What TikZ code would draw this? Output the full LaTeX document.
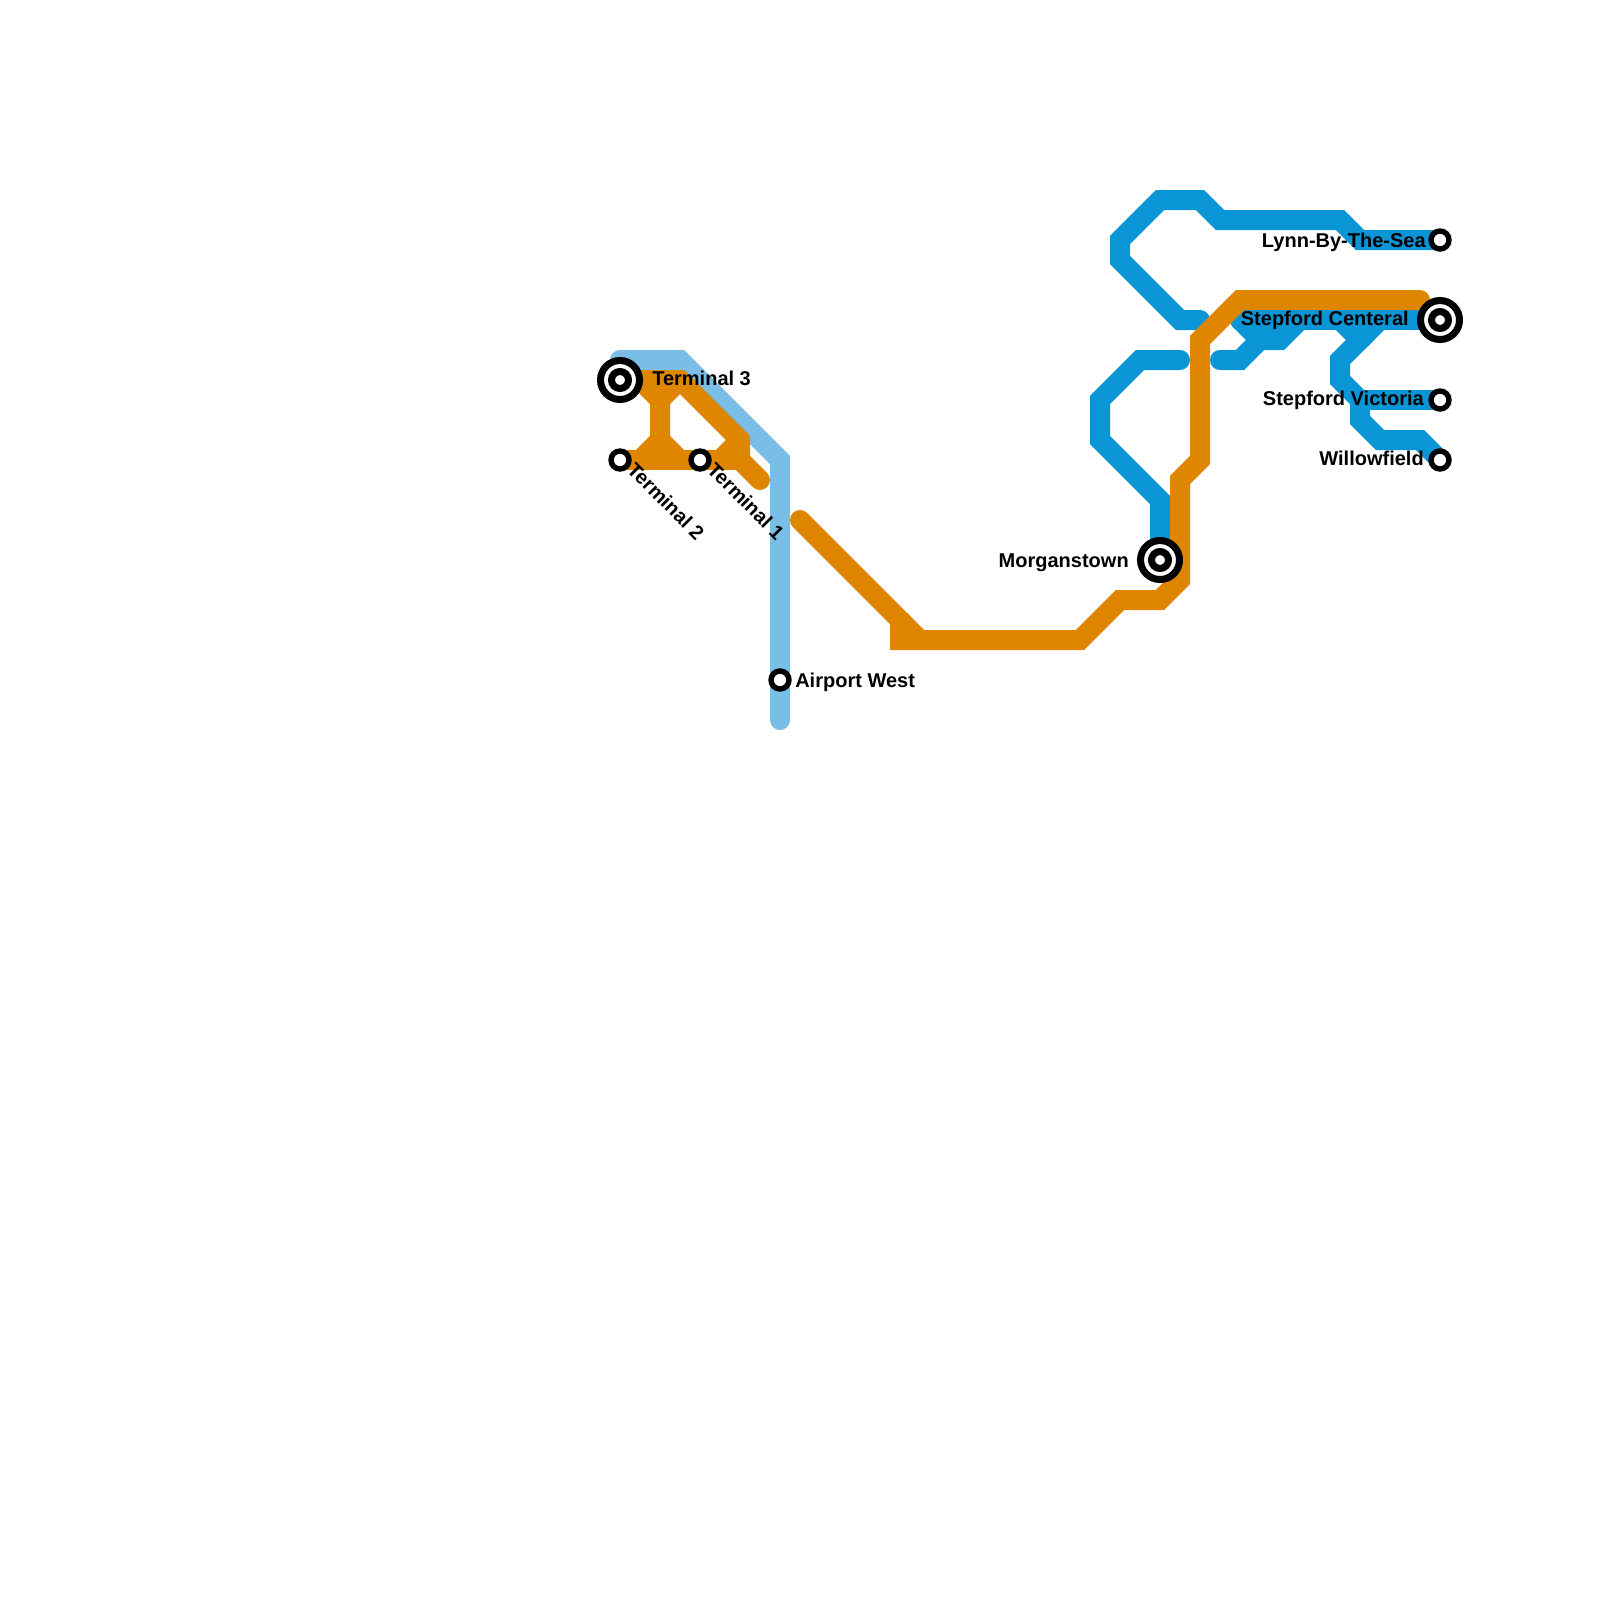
\documentclass[tikz,border=0pt]{standalone}
\usepackage{fontspec}
\setmainfont{Liberation Sans}
\definecolor{orng}{HTML}{DF8600}
\definecolor{blu}{HTML}{0A96D6}
\definecolor{lblu}{HTML}{7ABDE6}
\begin{document}
\begin{tikzpicture}[x=5mm,y=-5mm,
  ln/.style={line width=5mm, line cap=round, line join=miter},
  oline/.style={ln, draw=orng},
  bline/.style={ln, draw=blu},
  lline/.style={ln, draw=lblu},
  stn/.style={circle, draw=black, line width=1.35mm, fill=white, minimum size=4.5mm, inner sep=0pt},
  ichg/.style={circle, draw=black, line width=1.75mm, fill=white, minimum size=9.75mm, inner sep=0pt},
  ichgin/.style={circle, draw=black, line width=1.75mm, fill=white, minimum size=4.25mm, inner sep=0pt},
  lbl/.style={font=\fontsize{14.23pt}{17pt}\selectfont\bfseries, inner sep=0pt, text=black}]
\useasboundingbox (0,0) rectangle (80,80);

% light blue line
\draw[lline] (31,18) -- (34,18) -- (39,23) -- (39,36);

% blue lines
\draw[bline] (58,28) -- (58,25) -- (55,22) -- (55,20) -- (57,18) -- (59,18);
\draw[bline] (60,16) -- (59,16) -- (56,13) -- (56,12) -- (58,10) -- (60,10) -- (61,11) -- (67,11) -- (68,12) -- (72,12);
\draw[bline] (61,18) -- (62,18) -- (63,17) -- (64,17) -- (65,16);
\draw[bline] (62,16) -- (72,16);
\draw[bline] (62,16) -- (63,17);
\draw[bline] (67,16) -- (68,17) -- (67,18) -- (67,19) -- (68,20) -- (68,21) -- (69,22) -- (71,22) -- (72,23);
\draw[bline] (68,17) -- (69,16);
\draw[bline] (68,20) -- (72,20);

% orange lines
\draw[oline] (31,19) -- (34,19) -- (37,22) -- (37,23) -- (38,24);
\draw[oline] (32,19) -- (33,20) -- (33,22) -- (32,23);
\draw[oline] (33,20) -- (34,19);
\draw[oline] (31,23) -- (37,23);
\draw[oline] (33,22) -- (34,23);
\draw[oline] (36,23) -- (37,22);
\draw[oline] (40,26) -- (45,31) -- (45,32) -- (54,32) -- (56,30) -- (58,30) -- (59,29) -- (59,24) -- (60,23) -- (60,17) -- (62,15) -- (71,15);
\draw[oline] (45,31) -- (46,32);

% labels
\node[lbl, anchor=base west] (lt3) at (32.6,19.26) {Terminal 3};
\node[lbl, anchor=west, rotate=-45] (lt2) at (31.55,23.3) {Terminal 2};
\node[lbl, anchor=west, rotate=-45] (lt1) at (35.55,23.3) {Terminal 1};
\node[lbl, anchor=base west] (law) at (39.75,34.36) {Airport West};
\node[lbl, anchor=base east] (lmo) at (56.45,28.36) {Morganstown};
\node[lbl, anchor=base east] (lly) at (71.3,12.36) {Lynn-By-The-Sea};
\node[lbl, anchor=base east] (lsc) at (70.45,16.25) {Stepford Centeral};
\node[lbl, anchor=base east] (lsv) at (71.2,20.25) {Stepford Victoria};
\node[lbl, anchor=base east] (lwi) at (71.2,23.25) {Willowfield};

% stations
\node[ichg] (t3) at (31,19) {};
\node[ichgin] (t3i) at (t3) {};
\node[stn] (t2) at (31,23) {};
\node[stn] (t1) at (35,23) {};
\node[stn] (aw) at (39,34) {};
\node[ichg] (mo) at (58,28) {};
\node[ichgin] (moi) at (mo) {};
\node[stn] (ly) at (72,12) {};
\node[ichg] (sc) at (72,16) {};
\node[ichgin] (sci) at (sc) {};
\node[stn] (sv) at (72,20) {};
\node[stn] (wi) at (72,23) {};
\end{tikzpicture}
\end{document}
